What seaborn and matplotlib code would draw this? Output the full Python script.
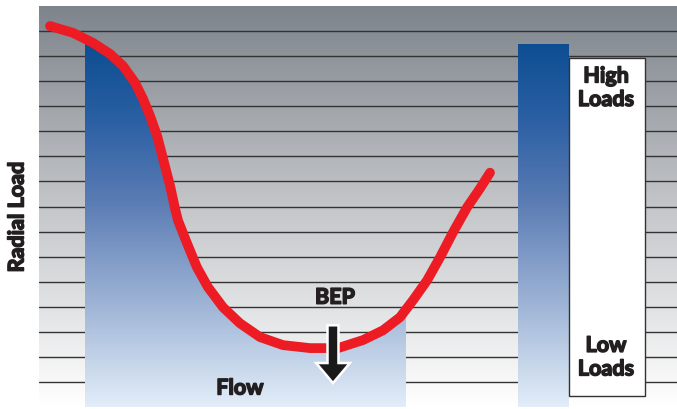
import numpy as np
import matplotlib
matplotlib.use("Agg")
import matplotlib.pyplot as plt
import matplotlib.patheffects as pe
import seaborn as sns
from matplotlib.colors import LinearSegmentedColormap
from matplotlib.patches import Rectangle, FancyArrow, PathPatch
from matplotlib.path import Path

# radial load curve (flow 0-100, load 0-16 bands)
curve_flow = [1.72, 5.33, 8.46, 11.13, 13.17, 15.05, 16.30, 17.40, 18.50, 19.44,
              20.53, 21.32, 21.79, 23.20, 24.76, 26.49, 28.84, 31.50, 34.64,
              38.24, 42.48, 46.87, 50.78, 53.92, 56.58, 58.62, 60.82, 62.85,
              64.89, 67.08, 69.12, 70.69]
curve_load = [15.20, 14.93, 14.53, 14.09, 13.61, 12.94, 12.30, 11.62, 10.83, 9.91,
              8.84, 7.92, 7.44, 6.53, 5.57, 4.78, 3.98, 3.34, 2.79,
              2.47, 2.35, 2.35, 2.67, 3.06, 3.58, 4.26, 5.05, 5.97,
              6.97, 7.96, 8.72, 9.35]

flow_span = [7.21, 57.37]        # shaded flow range under the curve
grid_levels = list(range(1, 16))
load_bar = [75.08, 83.07, 14.49]  # left, right, top
legend_box = [83.07, 94.98, 0.44, 13.93]
bep_flow = 46.08
bep_arrow = [3.26, 0.955]

sns.set_style("white")
plt.rcParams['font.family'] = ['Lato', 'DejaVu Sans']

fig = plt.figure(figsize=(6.77, 4.09), dpi=100)
ax = fig.add_axes([39 / 677, 2 / 409, 638 / 677, 401 / 409])
ax.set_xlim(0, 100)
ax.set_ylim(0, 16)
ax.set_axis_off()

# grey background gradient
grey = LinearSegmentedColormap.from_list("grey", ["#ffffff", "#c4c6c9", "#7e848c"])
grad = np.linspace(0, 1, 256).reshape(-1, 1)
ax.imshow(grad, cmap=grey, extent=[0, 100, 0, 16], origin="lower",
          aspect="auto", zorder=0)

for lv in grid_levels:
    ax.axhline(lv, color="#333333", lw=1.0, zorder=1)

blue = LinearSegmentedColormap.from_list(
    "blue", [(0.0, "#e2edf8"), (0.51, "#5b7cb4"), (0.72, "#2a5fa3"),
             (0.92, "#0b4c91"), (1.0, "#034a8f")])

# blue gradient under the curve
verts = list(zip(curve_flow, curve_load)) + [(curve_flow[-1], 0), (curve_flow[0], 0)]
clip = PathPatch(Path(verts), fc="none", ec="none", transform=ax.transData)
ax.add_patch(clip)
im = ax.imshow(grad, cmap=blue, extent=[flow_span[0], flow_span[1], 0, 16],
               origin="lower", aspect="auto", zorder=2)
im.set_clip_path(clip)

# right-hand load bar
bar = Rectangle((load_bar[0], 0), load_bar[1] - load_bar[0], load_bar[2],
                fc="none", ec="none")
ax.add_patch(bar)
im2 = ax.imshow(grad, cmap=blue, extent=[load_bar[0], load_bar[1], 0, 16],
                origin="lower", aspect="auto", zorder=2)
im2.set_clip_path(bar)

ax.add_patch(Rectangle((legend_box[0], legend_box[2]), legend_box[1] - legend_box[0],
                       legend_box[3] - legend_box[2], fc="white", ec="#333333",
                       lw=1.0, zorder=3))

sns.lineplot(x=curve_flow, y=curve_load, ax=ax, color="#ed1c24", linewidth=7,
             sort=False, estimator=None, solid_capstyle="round",
             solid_joinstyle="round", zorder=4)

ax.add_patch(FancyArrow(bep_flow, bep_arrow[0], 0, bep_arrow[1] - bep_arrow[0],
                        width=1.72, head_width=5.3, head_length=0.8,
                        length_includes_head=True, fc="#1a1a1a", ec="white",
                        lw=1.8, zorder=5))

# thicken the glyphs a little, the reference uses a heavy condensed face
bold = [pe.withStroke(linewidth=1.1, foreground="#231f20")]
tkw = dict(fontsize=15.5, fontweight="bold", color="#231f20", ha="center",
           va="center", path_effects=bold)
ax.text(46.39, 4.38, "BEP", zorder=6, **tkw)
ax.text(31.5, 0.76, "Flow", zorder=6, **tkw)
ax.text(88.87, 12.74, "High\nLoads", zorder=6, linespacing=1.15, **tkw)
ax.text(88.87, 1.99, "Low\nLoads", zorder=6, linespacing=1.15, **tkw)
fig.text(17 / 677, 1 - 217 / 409, "Radial Load", rotation=90, **tkw)

fig.savefig("out.png", dpi=100)
